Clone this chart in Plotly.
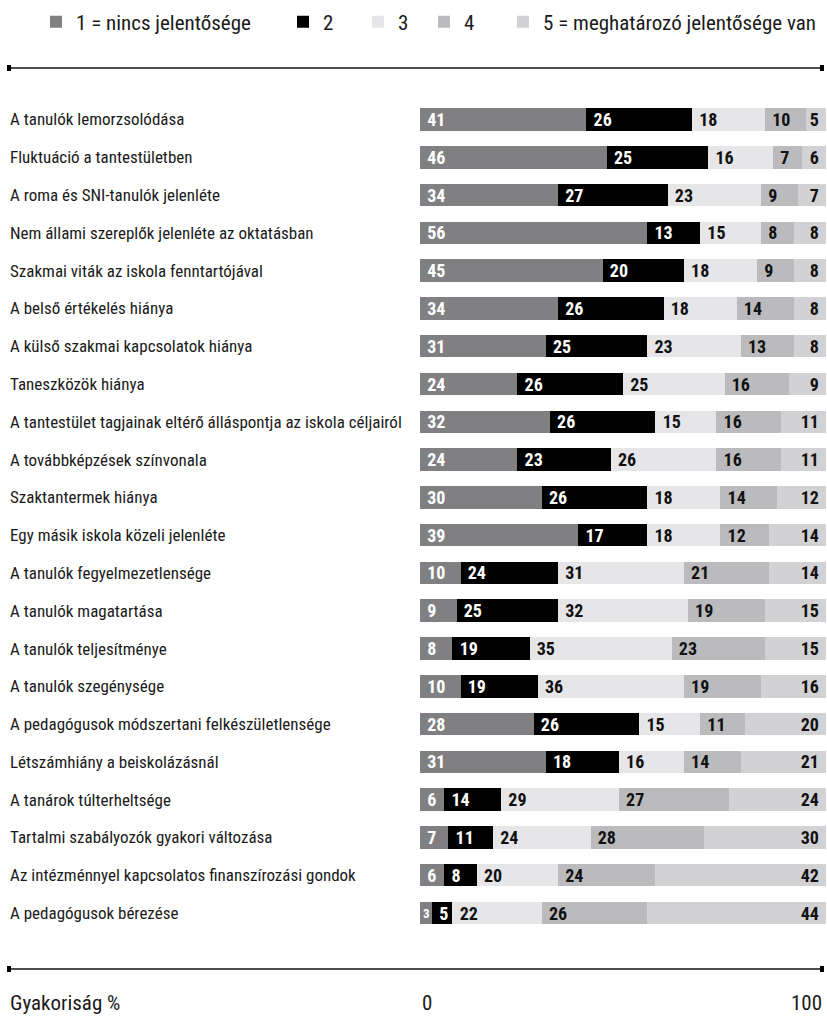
import plotly.graph_objects as go

categories = [
    "A tanulók lemorzsolódása",
    "Fluktuáció a tantestületben",
    "A roma és SNI-tanulók jelenléte",
    "Nem állami szereplők jelenléte az oktatásban",
    "Szakmai viták az iskola fenntartójával",
    "A belső értékelés hiánya",
    "A külső szakmai kapcsolatok hiánya",
    "Taneszközök hiánya",
    "A tantestület tagjainak eltérő álláspontja az iskola céljairól",
    "A továbbképzések színvonala",
    "Szaktantermek hiánya",
    "Egy másik iskola közeli jelenléte",
    "A tanulók fegyelmezetlensége",
    "A tanulók magatartása",
    "A tanulók teljesítménye",
    "A tanulók szegénysége",
    "A pedagógusok módszertani felkészületlensége",
    "Létszámhiány a beiskolázásnál",
    "A tanárok túlterheltsége",
    "Tartalmi szabályozók gyakori változása",
    "Az intézménnyel kapcsolatos finanszírozási gondok",
    "A pedagógusok bérezése",
]

level1 = [41, 46, 34, 56, 45, 34, 31, 24, 32, 24, 30, 39, 10, 9, 8, 10, 28, 31, 6, 7, 6, 3]
level2 = [26, 25, 27, 13, 20, 26, 25, 26, 26, 23, 26, 17, 24, 25, 19, 19, 26, 18, 14, 11, 8, 5]
level3 = [18, 16, 23, 15, 18, 18, 23, 25, 15, 26, 18, 18, 31, 32, 35, 36, 15, 16, 29, 24, 20, 22]
level4 = [10, 7, 9, 8, 9, 14, 13, 16, 16, 16, 14, 12, 21, 19, 23, 19, 11, 14, 27, 28, 24, 26]
level5 = [5, 6, 7, 8, 8, 8, 8, 9, 11, 11, 12, 14, 14, 15, 15, 16, 20, 21, 24, 30, 42, 44]

series_names = ["1 = nincs jelentősége", "2", "3", "4", "5 = meghatározó jelentősége van"]
series_values = [level1, level2, level3, level4, level5]
series_colors = ["#808083", "#000000", "#e6e6e8", "#bbbbbe", "#d2d2d4"]
text_colors = ["#ffffff", "#ffffff", "#111111", "#111111", "#111111"]

axis_title = "Gyakoriság %"
axis_ticks = [0, 100]

W, H = 827, 1017
NARROW = "Roboto Condensed, Liberation Sans Narrow, DejaVu Sans Condensed, Arial Narrow, sans-serif"


def px(x):
    return x / W


def py(y):
    return 1 - y / H


# legend text start positions (pixels), one legend per series
legend_text_x = [76, 323, 398, 464, 543]
legend_ids = ["legend", "legend2", "legend3", "legend4", "legend5"]

fig = go.Figure()
for i, (name, vals, col) in enumerate(zip(series_names, series_values, series_colors)):
    last = i == len(series_names) - 1
    if last:
        tmpl = "%{x}\u00a0"
        sizes = 18
    else:
        tmpl = ["%{x}" if v < 5 else "\u00a0%{x}" for v in vals]
        sizes = [13 if v < 5 else 18 for v in vals]
    fig.add_trace(go.Bar(
        y=categories, x=vals, name=name, orientation="h",
        marker=dict(color=col, line=dict(width=0)),
        text=vals,
        texttemplate=tmpl,
        textposition="inside",
        insidetextanchor="end" if last else "start",
        textangle=0,
        constraintext="none",
        textfont=dict(family=NARROW, size=sizes, color=text_colors[i], weight="bold"),
        hoverinfo="skip",
        legend=legend_ids[i],
    ))

# row labels
for c in categories:
    fig.add_annotation(x=px(8), xref="paper", y=c, yref="y", text=c,
                       xanchor="left", yanchor="middle", showarrow=False,
                       font=dict(family=NARROW, size=17, color="#1a1a1a"))

# bottom axis labels
ybot = py(1003)
fig.add_annotation(x=axis_ticks[0], xref="x", y=ybot, yref="paper",
                   text=str(axis_ticks[0]), xanchor="left", yanchor="middle",
                   showarrow=False, font=dict(family=NARROW, size=21, color="#1a1a1a"))
fig.add_annotation(x=axis_ticks[1], xref="x", xshift=-2, y=ybot, yref="paper",
                   text=str(axis_ticks[1]), xanchor="right", yanchor="middle",
                   showarrow=False, font=dict(family=NARROW, size=21, color="#1a1a1a"))
fig.add_annotation(x=px(8), xref="paper", y=ybot, yref="paper",
                   text=axis_title, xanchor="left", yanchor="middle",
                   showarrow=False, font=dict(family=NARROW, size=21, color="#1a1a1a"))

# decorative rules with square end caps
shapes = []
for ypage in (68, 969):
    shapes.append(dict(type="line", xref="paper", yref="paper",
                       x0=px(8), x1=px(824), y0=py(ypage), y1=py(ypage),
                       line=dict(color="#111111", width=1.6)))
    for xpage in (7, 820):
        shapes.append(dict(type="rect", xref="paper", yref="paper",
                           x0=px(xpage), x1=px(xpage + 4),
                           y0=py(ypage + 3), y1=py(ypage - 3),
                           fillcolor="#000000", line=dict(width=0)))

row_top = 119.5 - 18.9
row_bot = 913 + 18.9

legend_layout = {}
for lid, tx in zip(legend_ids, legend_text_x):
    legend_layout[lid] = dict(
        orientation="h", x=px(tx - 40), xanchor="left", y=py(22), yanchor="middle",
        font=dict(family=NARROW, size=21, color="#1a1a1a"),
        itemwidth=30, bgcolor="rgba(0,0,0,0)", borderwidth=0,
    )

fig.update_layout(
    width=W, height=H,
    margin=dict(l=0, r=0, t=0, b=0),
    paper_bgcolor="white", plot_bgcolor="white",
    barmode="stack", bargap=0.405,
    xaxis=dict(domain=[px(420), px(826)], range=[0, 100], visible=False, fixedrange=True),
    yaxis=dict(domain=[py(row_bot), py(row_top)],
               categoryorder="array", categoryarray=categories,
               range=[len(categories) - 0.5, -0.5], visible=False, fixedrange=True),
    showlegend=True,
    shapes=shapes,
    font=dict(family=NARROW),
    **legend_layout,
)

fig.write_html(
    "out.html",
    config={"displayModeBar": False},
    post_script="document.body.style.margin='0';document.body.style.overflow='hidden';",
)
